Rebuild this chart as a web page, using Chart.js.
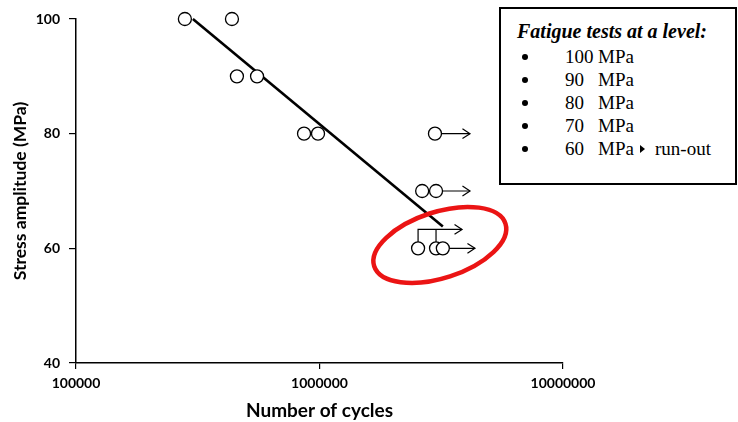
<!DOCTYPE html>
<html>
<head>
<meta charset="utf-8">
<script src="https://cdn.jsdelivr.net/npm/chart.js@4.4.1/dist/chart.umd.min.js"></script>
<style>
  html, body { margin: 0; padding: 0; background: #fff; }
  #wrap { position: relative; width: 738px; height: 422px; overflow: hidden; }
  canvas { position: absolute; left: 0; top: 0; }
  #legend { position: absolute; left: 499px; top: 7px; width: 238px; height: 178px;
            box-sizing: border-box; border: 2px solid #000; background: #fff;
            font-family: "Liberation Serif", "Times New Roman", serif; font-size: 19px; color: #000; }
  #legend .title { position: absolute; left: 16px; top: 10px; font-size: 20px; line-height: 24px; font-weight: bold; font-style: italic; white-space: nowrap; }
  #legend .row { position: absolute; left: 0; height: 22px; line-height: 22px; white-space: nowrap; }
  #legend .dot { position: absolute; left: 21px; top: 8px; width: 6px; height: 6px; border-radius: 50%; background: #000; }
  #legend .num { position: absolute; left: 64px; }
  #legend .unit { position: absolute; left: 97px; }
  #legend .tri { position: absolute; left: 139px; top: 7px; width: 0; height: 0;
                 border-top: 4px solid transparent; border-bottom: 4px solid transparent; border-left: 5px solid #000; }
  #legend .ro { position: absolute; left: 154px; }
</style>
</head>
<body>
<div id="wrap">
  <canvas id="c" width="738" height="422"></canvas>
  <div id="legend"></div>
</div>
<script>
// ---- data ----
const pointCycles = [280000, 437000, 458000, 554000, 864000, 986000, 2980000, 2640000, 3010000, 2540000, 3010000, 3210000];
const pointStress = [100, 100, 90, 90, 80, 80, 80, 70, 70, 60, 60, 60];

const trendCycles = [302000, 3210000];
const trendStress = [100, 63.8];

const runoutStartCycles = [2980000, 3010000, 3210000];
const runoutEndCycles = [4150000, 4150000, 4350000];
const runoutStress = [80, 70, 60];

const stepCycles = [2540000, 3010000];
const stepFromStress = 60;
const stepToStress = 63.3;
const stepEndCycles = 3850000;

const xTicks = [100000, 1000000, 10000000];
const yTicks = [40, 60, 80, 100];

const legendTitle = "Fatigue tests at a level:";
const legendLevels = ["100", "90", "80", "70", "60"];
const legendUnit = "MPa";
const legendRunout = "run-out";

const ellipseCenter = { cycles: 3120000, stress: 60.6 };

// ---- legend (HTML text) ----
const lg = document.getElementById('legend');
const t = document.createElement('div'); t.className = 'title'; t.textContent = legendTitle; lg.appendChild(t);
const rowTops = [37, 60, 83, 106, 129];
legendLevels.forEach((lv, i) => {
  const r = document.createElement('div'); r.className = 'row'; r.style.top = rowTops[i] + 'px'; r.style.width = '236px';
  r.innerHTML = '<span class="dot"></span><span class="num"></span><span class="unit"></span>';
  r.querySelector('.num').textContent = lv;
  r.querySelector('.unit').textContent = legendUnit;
  if (i === legendLevels.length - 1) {
    const tri = document.createElement('span'); tri.className = 'tri'; r.appendChild(tri);
    const ro = document.createElement('span'); ro.className = 'ro'; ro.textContent = legendRunout; r.appendChild(ro);
  }
  lg.appendChild(r);
});

// ---- datasets ----
const datasets = [];
datasets.push({
  label: 'tests', data: pointCycles.map((c, i) => ({ x: c, y: pointStress[i] })),
  pointRadius: 6.5, pointHoverRadius: 6.5, pointBorderWidth: 1.3,
  pointBorderColor: '#000', pointBackgroundColor: '#fff', showLine: false, order: 0, clip: false
});
datasets.push({
  label: 'trend', data: trendCycles.map((c, i) => ({ x: c, y: trendStress[i] })),
  showLine: true, borderColor: '#000', borderWidth: 2.6, pointRadius: 0, order: 2, clip: false
});
runoutStress.forEach((s, i) => {
  datasets.push({
    label: 'runout' + i, arrow: true,
    data: [{ x: runoutStartCycles[i], y: s }, { x: runoutEndCycles[i], y: s }],
    showLine: true, borderColor: '#000', borderWidth: 1.2, pointRadius: 0, order: 1, clip: false
  });
});
datasets.push({
  label: 'step', arrow: true,
  data: [{ x: stepCycles[0], y: stepFromStress }, { x: stepCycles[0], y: stepToStress }, { x: stepEndCycles, y: stepToStress }],
  showLine: true, borderColor: '#000', borderWidth: 1.2, pointRadius: 0, order: 1, clip: false
});
datasets.push({
  label: 'step2',
  data: [{ x: stepCycles[1], y: stepFromStress }, { x: stepCycles[1], y: stepToStress }],
  showLine: true, borderColor: '#000', borderWidth: 1.2, pointRadius: 0, order: 1, clip: false
});

const arrowPlugin = {
  id: 'arrows',
  afterDatasetsDraw(chart) {
    const ctx = chart.ctx;
    chart.data.datasets.forEach((ds, i) => {
      if (!ds.arrow) return;
      const pts = chart.getDatasetMeta(i).data;
      const a = pts[pts.length - 2], b = pts[pts.length - 1];
      const ang = Math.atan2(b.y - a.y, b.x - a.x);
      const L = 9, spread = 0.58;
      ctx.save();
      ctx.strokeStyle = '#000'; ctx.lineWidth = 1.2; ctx.lineJoin = 'miter';
      ctx.beginPath();
      ctx.moveTo(b.x - L * Math.cos(ang - spread), b.y - L * Math.sin(ang - spread));
      ctx.lineTo(b.x, b.y);
      ctx.lineTo(b.x - L * Math.cos(ang + spread), b.y - L * Math.sin(ang + spread));
      ctx.stroke();
      ctx.restore();
    });
    // red ellipse highlight
    const xs = chart.scales.x, ys = chart.scales.y;
    const cx = xs.getPixelForValue(ellipseCenter.cycles), cy = ys.getPixelForValue(ellipseCenter.stress);
    ctx.save();
    ctx.strokeStyle = 'rgb(235,20,20)'; ctx.lineWidth = 4.5;
    ctx.beginPath();
    ctx.ellipse(cx, cy, 69, 33, -18 * Math.PI / 180, 0, Math.PI * 2);
    ctx.stroke();
    ctx.restore();
  }
};

const tickFont = { family: 'Lato, "Open Sans", sans-serif', size: 14, weight: 'bold' };
const xTitleFont = { family: 'Lato, "Open Sans", sans-serif', size: 19, weight: 'bold' };
const yTitleFont = { family: 'Lato, "Open Sans", sans-serif', size: 17.5, weight: 'bold' };

new Chart(document.getElementById('c'), {
  type: 'scatter',
  data: { datasets },
  options: {
    responsive: false, animation: false, events: [],
    layout: { padding: { top: 19, right: 175, bottom: 0, left: 0 } },
    plugins: { legend: { display: false }, tooltip: { enabled: false } },
    scales: {
      x: {
        type: 'logarithmic', min: 100000, max: 10000000,
        afterBuildTicks: s => { s.ticks = xTicks.map(v => ({ value: v })); },
        afterFit: s => { s.height = 59; },
        grid: { display: true, drawOnChartArea: false, color: '#000', lineWidth: 1.2, tickLength: 6 },
        border: { display: true, color: '#000', width: 1.5 },
        ticks: { color: '#000', font: tickFont, padding: 6, maxRotation: 0, autoSkip: false, callback: v => String(v) },
        title: { display: true, text: 'Number of cycles', color: '#000', font: xTitleFont, padding: { top: 0, bottom: 0 } }
      },
      y: {
        type: 'linear', min: 40, max: 100,
        afterBuildTicks: s => { s.ticks = yTicks.map(v => ({ value: v })); },
        afterFit: s => { s.width = 76; },
        grid: { display: true, drawOnChartArea: false, color: '#000', lineWidth: 1.2, tickLength: 7 },
        border: { display: true, color: '#000', width: 1.5 },
        ticks: { color: '#000', font: tickFont, padding: 9, callback: v => String(v) },
        title: { display: true, text: 'Stress amplitude (MPa)', color: '#000', font: yTitleFont, padding: { top: 10, bottom: 0 } }
      }
    }
  },
  plugins: [arrowPlugin]
});
</script>
</body>
</html>
